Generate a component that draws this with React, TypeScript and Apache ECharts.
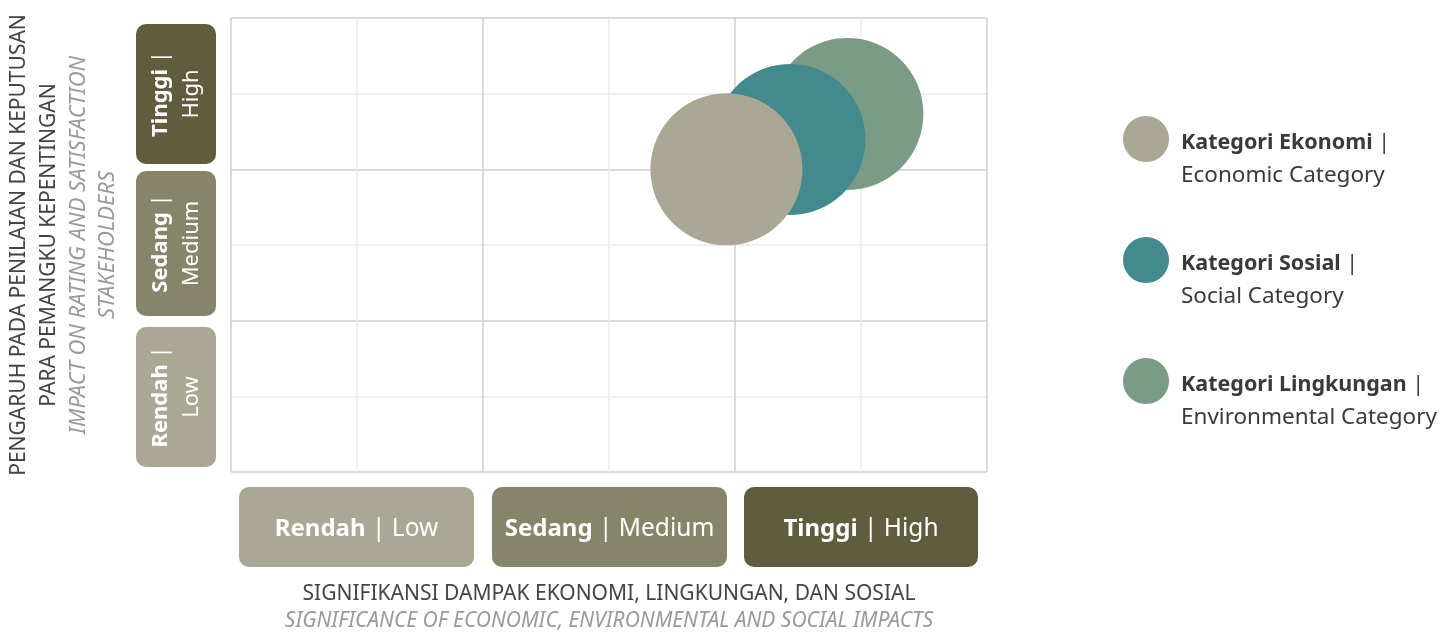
import React, { useEffect, useRef } from "react";
import * as echarts from "echarts";

const seriesNames = ["Kategori Lingkungan", "Kategori Sosial", "Kategori Ekonomi"];
const seriesEnglish = ["Environmental Category", "Social Category", "Economic Category"];
const seriesColors = ["#7a9c86", "#438a8f", "#aaa894"];
const xValues = [2.446, 2.218, 1.966];
const yValues = [2.366, 2.197, 2.0];
const bubbleSizes = [152, 151, 152];

const levelBold = ["Rendah", "Sedang", "Tinggi"];
const levelEnglish = ["Low", "Medium", "High"];
const levelColors = ["#aaa894", "#868469", "#605d3f"];

const xTitle = "SIGNIFIKANSI DAMPAK EKONOMI, LINGKUNGAN, DAN SOSIAL";
const xTitleEn = "SIGNIFICANCE OF ECONOMIC, ENVIRONMENTAL AND SOCIAL IMPACTS";
const yTitle1 = "PENGARUH PADA PENILAIAN DAN KEPUTUSAN";
const yTitle2 = "PARA PEMANGKU KEPENTINGAN";
const yTitleEn1 = "IMPACT ON RATING AND SATISFACTION";
const yTitleEn2 = "STAKEHOLDERS";

const FONT = "'Noto Sans', 'Open Sans', sans-serif";

export default function App() {
  const ref = useRef<HTMLDivElement>(null);
  useEffect(() => {
    if (!ref.current) return;
    const chart = echarts.init(ref.current, null, { renderer: "svg" });

    const xBoxes = [
      { x: 239, w: 235 },
      { x: 492, w: 235 },
      { x: 744, w: 234 },
    ];
    const yBoxes = [
      { y: 327, h: 140 },
      { y: 171, h: 145 },
      { y: 24, h: 140 },
    ];

    const graphics: any[] = [];
    xBoxes.forEach((b, i) => {
      graphics.push({
        type: "rect",
        shape: { x: b.x, y: 487, width: b.w, height: 80, r: 10 },
        style: { fill: levelColors[i] },
      });
      graphics.push({
        type: "text",
        x: b.x + b.w / 2,
        y: 526,
        style: {
          text: `{b|${levelBold[i]}}{r| | ${levelEnglish[i]}}`,
          align: "center",
          verticalAlign: "middle",
          rich: {
            b: { fontFamily: FONT, fontWeight: "bold", fontSize: 24, fill: "#ffffff" },
            r: { fontFamily: FONT, fontWeight: "normal", fontSize: 24.5, fill: "#ffffff" },
          },
        },
      });
    });
    yBoxes.forEach((b, i) => {
      graphics.push({
        type: "rect",
        shape: { x: 136, y: b.y, width: 80, height: b.h, r: 10 },
        style: { fill: levelColors[i] },
      });
      graphics.push({
        type: "text",
        x: 173,
        y: b.y + b.h / 2,
        rotation: Math.PI / 2,
        style: {
          text: `{b|${levelBold[i]}}{r| |}\n{r|${levelEnglish[i]}}`,
          align: "center",
          verticalAlign: "middle",
          rich: {
            b: { fontFamily: FONT, fontWeight: "bold", fontSize: 22, fill: "#ffffff", lineHeight: 31 },
            r: { fontFamily: FONT, fontWeight: "normal", fontSize: 22, fill: "#ffffff", lineHeight: 31 },
          },
        },
      });
    });

    graphics.push({
      type: "text",
      x: 609,
      y: 592,
      style: { text: xTitle, align: "center", verticalAlign: "middle", fontFamily: FONT, fontSize: 21, fill: "#444444" },
    });
    graphics.push({
      type: "text",
      x: 609,
      y: 619,
      style: { text: xTitleEn, align: "center", verticalAlign: "middle", fontFamily: FONT, fontSize: 21, fontStyle: "italic", fill: "#9a9a9a" },
    });

    const yLines = [
      { x: 17, t: yTitle1, c: "#444444", it: "normal", s: 21 },
      { x: 47, t: yTitle2, c: "#444444", it: "normal", s: 21 },
      { x: 76, t: yTitleEn1, c: "#9a9a9a", it: "italic", s: 22 },
      { x: 105, t: yTitleEn2, c: "#9a9a9a", it: "italic", s: 22 },
    ];
    yLines.forEach((l) => {
      graphics.push({
        type: "text",
        x: l.x,
        y: 245,
        rotation: Math.PI / 2,
        style: { text: l.t, align: "center", verticalAlign: "middle", fontFamily: FONT, fontSize: l.s, fontStyle: l.it, fill: l.c },
      });
    });

    const legendOrder = [2, 1, 0];
    legendOrder.forEach((si, k) => {
      const cy = 139 + k * 121;
      graphics.push({
        type: "circle",
        shape: { cx: 1146, cy, r: 23 },
        style: { fill: seriesColors[si] },
      });
      graphics.push({
        type: "text",
        x: 1181,
        y: cy + 1,
        style: {
          text: `{b|${seriesNames[si]}}{r| |}`,
          verticalAlign: "middle",
          rich: {
            b: { fontFamily: FONT, fontWeight: "bold", fontSize: 21.5, fill: "#3a3a3a" },
            r: { fontFamily: FONT, fontWeight: "normal", fontSize: 21.5, fill: "#3a3a3a" },
          },
        },
      });
      graphics.push({
        type: "text",
        x: 1181,
        y: cy + 34,
        style: { text: seriesEnglish[si], verticalAlign: "middle", fontFamily: FONT, fontSize: 22.5, fill: "#3a3a3a" },
      });
    });

    const axisCommon = {
      type: "value",
      min: 0,
      max: 3,
      interval: 0.5,
      axisLabel: { show: false },
      axisTick: { show: false },
      axisLine: { show: false },
      splitLine: {
        show: true,
        lineStyle: { color: ["#cfcfcf", "#ebebeb"], width: 1.5 },
      },
    };

    chart.setOption({
      animation: false,
      grid: { left: 231, top: 18, width: 756, height: 454, show: false },
      xAxis: axisCommon,
      yAxis: axisCommon,
      series: seriesNames.map((n, i) => ({
        name: n,
        type: "scatter",
        data: [[xValues[i], yValues[i], bubbleSizes[i]]],
        symbolSize: (d: number[]) => d[2],
        itemStyle: { color: seriesColors[i], opacity: 1 },
        emphasis: { disabled: true },
        z: 2 + i,
      })),
      graphic: graphics,
    });
    return () => chart.dispose();
  }, []);
  return <div ref={ref} style={{ position: "fixed", left: 0, top: 0, width: 1453, height: 633 }} />;
}
